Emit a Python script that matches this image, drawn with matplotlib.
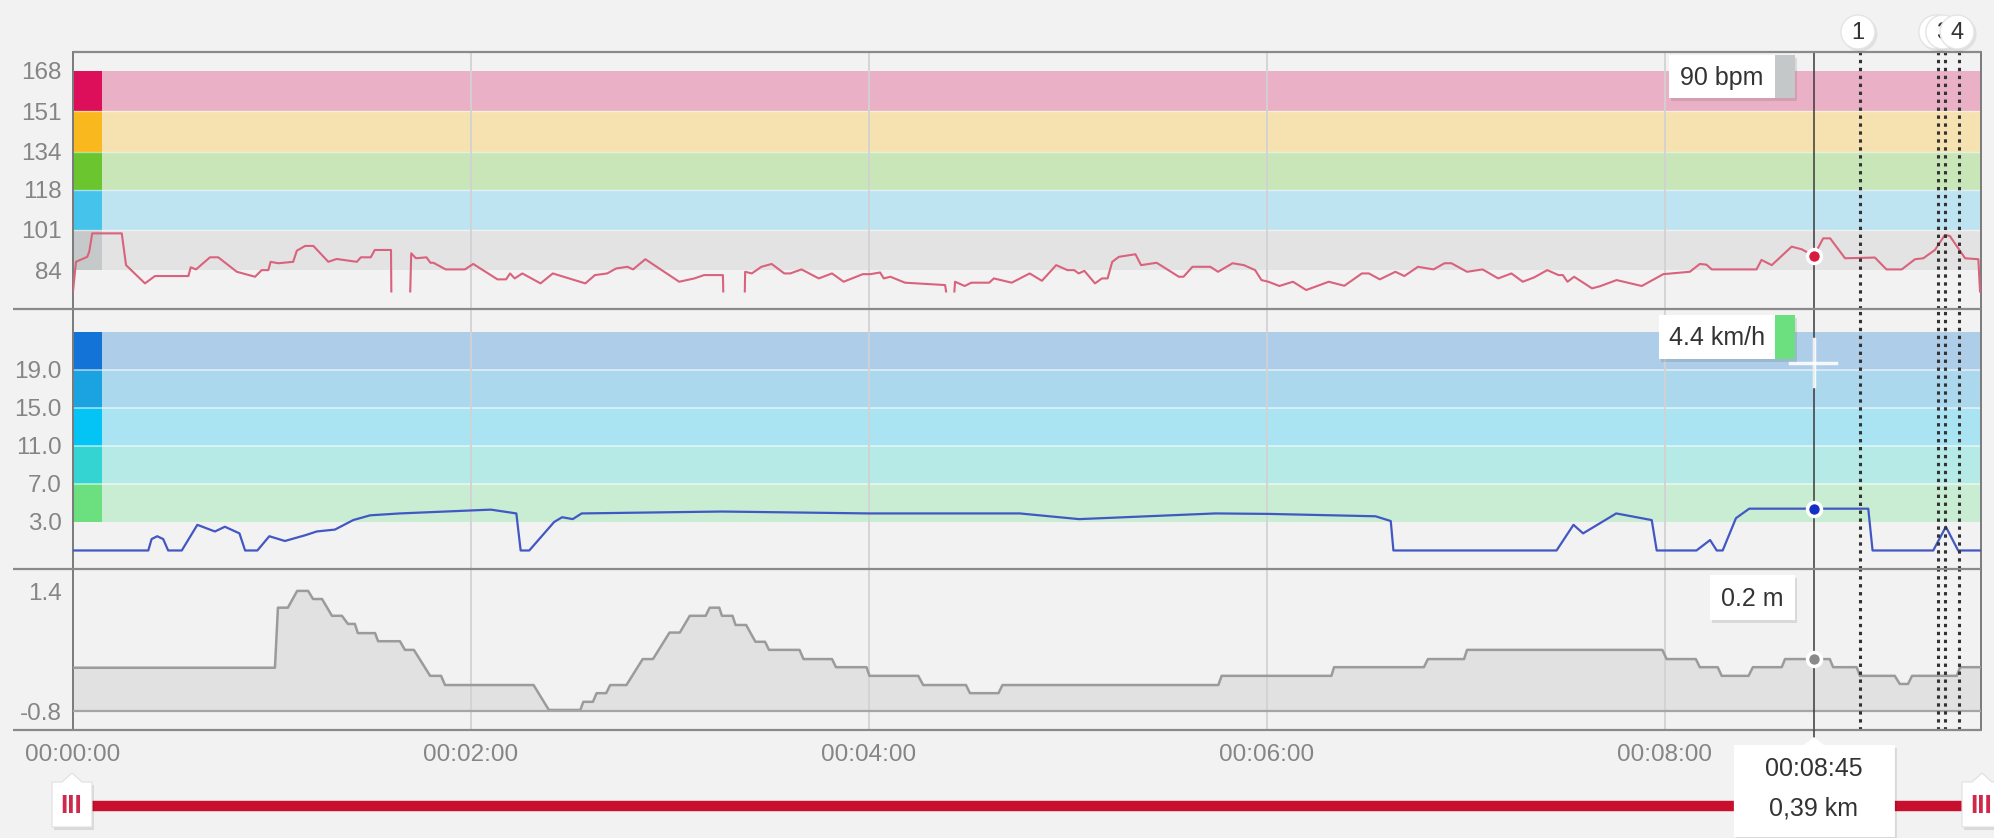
import numpy as np
import matplotlib.pyplot as plt
from matplotlib.patches import Rectangle, Polygon, Circle

plt.rcParams['font.family'] = ['Liberation Sans', 'DejaVu Sans']

W, H = 1994, 838
BG = '#f2f2f2'

# ---- data -------------------------------------------------------------
nan = np.nan
hr_t = [0, 0.9, 4.3, 4.9, 5.8, 14.7, 16.0, 21.7, 24.7, 34.8, 35.5, 37.1, 41.3, 43.8,
        49.4, 54.9, 56.9, 58.9, 59.6, 61.9, 66.4, 67.5, 70.0, 72.5, 77.0, 79.5, 85.6,
        86.8, 89.8, 91.0, 95.9, 96.0, 99.0,
        101.7, 102.0, 103.4, 106.6, 107.8, 108.7, 112.4, 118.2, 120.7, 128.0, 130.6,
        131.8, 133.2, 135.5, 141.0, 144.7, 154.5, 157.4, 161.1, 163.8, 167.2, 168.9,
        172.6, 182.8, 187.4, 190.3, 196.0, 196.1, 199.0,
        202.6, 202.7, 204.7, 207.6, 210.7, 214.5, 216.3, 219.7, 224.9, 228.9, 232.4,
        238.2, 240.5, 243.4, 244.5, 246.5, 250.9, 263.0, 263.3, 264.5,
        265.8, 266.0, 268.9, 270.9, 276.3, 277.7, 283.1, 288.5, 292.2, 296.5, 299.9,
        301.9, 303.3, 305.0, 308.2, 310.3, 312.0, 313.4, 315.4, 320.4, 322.1, 326.8,
        333.5, 334.9, 337.6, 343.0, 345.3, 349.7, 353.1, 356.5, 358.4, 360.5, 363.8,
        367.9, 371.9, 378.7, 383.4, 388.7, 390.8, 394.1, 398.8, 401.5, 405.6, 410.3,
        413.6, 415.7, 420.4, 425.1, 429.8, 433.8, 437.2, 440.6, 444.6, 448.0, 449.3,
        450.7, 452.7, 458.1, 460.5, 465.5, 473.1, 479.6, 487.6, 490.6, 492.6, 494.2,
        507.7, 509.2, 512.3, 518.3, 521.3, 525.0, 527.8, 529.9, 534.4, 543.4, 546.9,
        551.5, 555.5, 558.0, 561.5, 564.5, 566.0, 570.6, 574.6, 575.1]
hr_v = [75, 87.5, 89.6, 91.8, 99.5, 99.5, 86.1, 78.4, 81.5, 81.5, 85.2, 84.3, 89.4, 89.4,
        83.3, 81.2, 84.0, 84.0, 87.5, 86.9, 87.5, 92.2, 94.2, 94.2, 87.5, 88.7, 87.5,
        89.4, 89.4, 92.5, 92.5, 75, nan,
        75, 91.1, 89.0, 89.4, 87.1, 87.1, 84.3, 84.3, 86.6, 80.1, 80.1,
        82.6, 80.5, 82.6, 78.4, 82.6, 78.4, 81.9, 82.6, 84.7, 85.4, 84.3,
        88.6, 79.1, 80.5, 81.9, 81.9, 75, nan,
        75, 83.3, 82.6, 85.4, 86.6, 82.6, 82.6, 84.3, 80.5, 82.6, 79.1,
        82.3, 82.3, 83.0, 80.5, 81.2, 78.7, 77.7, 75, nan,
        75, 79.1, 77.3, 78.7, 78.7, 80.5, 78.7, 82.6, 79.5, 86.1, 84.0,
        84.0, 82.6, 83.7, 78.4, 80.5, 80.5, 87.5, 89.6, 90.7, 86.1, 87.1,
        81.2, 81.2, 85.4, 85.4, 83.3, 86.9, 86.1, 84.0, 79.8, 79.1, 77.3,
        79.1, 75.6, 79.1, 77.4, 82.6, 82.6, 80.1, 83.3, 81.5, 85.4, 84.3,
        86.9, 86.9, 83.3, 84.3, 80.5, 82.6, 79.1, 80.9, 84.0, 81.9, 81.9,
        79.1, 81.2, 76.3, 77.2, 79.8, 77.3, 82.3, 83.3, 86.6, 86.3, 84.3,
        84.3, 88.3, 86.1, 93.9, 92.8, 90.0, 97.4, 97.4, 89.0, 89.3, 84.3,
        84.3, 88.6, 89.0, 92.5, 98.8, 98.4, 89.0, 88.6, 75]

sp_t = [0, 22.7, 23.7, 25.4, 27.2, 28.7, 32.8, 37.5, 42.8, 45.8, 50.2, 51.9, 55.6, 59.2,
        63.9, 70.0, 73.5, 79.0, 84.5, 89.6, 98.6, 126.0, 133.7, 135.0, 137.6, 145.1,
        147.5, 150.7, 153.4, 195.7, 239.9, 285.5, 303.4, 344.5, 360.6, 392.8, 397.4,
        398.2, 447.4, 452.5, 455.4, 465.4, 476.1, 477.6, 489.6, 493.7, 495.7, 497.5,
        501.5, 505.5, 541.4, 542.7, 561.0, 564.8, 568.5, 575.4]
sp_v = [0, 0, 1.2, 1.5, 1.2, 0, 0, 2.7, 2.0, 2.5, 1.8, 0, 0, 1.5,
        1.0, 1.6, 2.0, 2.2, 3.2, 3.7, 3.9, 4.3, 3.9, 0, 0, 3.0,
        3.5, 3.3, 3.9, 4.1, 3.9, 3.9, 3.3, 3.9, 3.85, 3.6, 3.1,
        0, 0, 2.7, 1.8, 3.9, 3.2, 0, 0, 1.1, 0, 0,
        3.4, 4.4, 4.4, 0, 0, 2.5, 0, 0]

el_t = [0, 60.9, 61.8, 64.8, 67.6, 70.9, 72.4, 75.1, 78.1, 81.1, 82.9, 85.0, 85.9, 91.1,
        92.0, 98.6, 100.1, 102.8, 107.7, 111.0, 112.2, 138.9, 143.5, 153.0, 153.9, 156.8,
        157.9, 160.8, 162.0, 166.9, 171.8, 174.9, 179.9, 183.0, 186.0, 190.8, 192.0,
        194.9, 195.7, 198.9, 199.8, 203.0, 205.8, 208.7, 209.9, 219.1, 220.3, 228.9,
        230.1, 239.3, 240.2, 254.9, 256.4, 269.3, 270.5, 279.1, 280.3, 345.4, 346.4,
        379.5, 380.3, 407.4, 408.6, 419.5, 420.4, 479.3, 480.6, 489.4, 490.6, 496.0,
        497.2, 505.3, 506.6, 515.3, 516.3, 529.8, 530.8, 537.9, 538.9, 549.4, 550.9,
        553.4, 554.6, 568.1, 569.1, 575.4]
el_v = [0.0, 0.0, 1.11, 1.11, 1.42, 1.42, 1.27, 1.27, 0.96, 0.96, 0.81, 0.81, 0.64, 0.64,
        0.49, 0.49, 0.33, 0.33, -0.15, -0.15, -0.32, -0.32, -0.78, -0.78, -0.63, -0.63,
        -0.47, -0.47, -0.32, -0.32, 0.16, 0.16, 0.65, 0.65, 0.96, 0.96, 1.11,
        1.11, 0.96, 0.96, 0.79, 0.79, 0.48, 0.48, 0.33, 0.33, 0.16, 0.16,
        0.01, 0.01, -0.15, -0.15, -0.32, -0.32, -0.47, -0.47, -0.32, -0.32, -0.15,
        -0.15, 0.01, 0.01, 0.16, 0.16, 0.33, 0.33, 0.16, 0.16, 0.01, 0.01,
        -0.15, -0.15, 0.01, 0.01, 0.16, 0.16, 0.01, 0.01, -0.15, -0.15, -0.30,
        -0.30, -0.15, -0.15, 0.01, 0.01]

hr_zones = [84, 101, 118, 134, 151, 168]
hr_band_colors = ['#e3e3e3', '#bee3f1', '#c9e6b9', '#f6e1b0', '#eab0c5']
hr_box_colors = ['#c6c9ca', '#45c3ea', '#6ac52e', '#f9b81d', '#de0f5a']
sp_zones = [3, 7, 11, 15, 19, 23]
sp_labels = ['3.0', '7.0', '11.0', '15.0', '19.0']
sp_band_colors = ['#c9edd2', '#b5eae6', '#aae4f3', '#abd8ec', '#aecde8']
sp_box_colors = ['#6ce07f', '#33d4d2', '#04c4f6', '#1ba2e1', '#1473d6']
el_ticks = [1.4, -0.8]
el_labels = ['1.4', '-0.8']

grid_t = [0, 120, 240, 360, 480]
lap_t = [538.9, 562.4, 564.5, 568.8]
lap_names = ['1', '2', '3', '4']
t_end = 575.4

cursor_t = 525
cursor_hr = 90
cursor_sp = 4.4
cursor_el = 0.16
cursor_km = '0,39 km'

# ---- layout -----------------------------------------------------------
fig = plt.figure(figsize=(W / 100, H / 100), dpi=100, facecolor=BG)
L, R = 73, 1981


def frame(top, bottom):
    return [L / W, 1 - bottom / H, (R - L) / W, (bottom - top) / H]


ax_hr = fig.add_axes(frame(52, 309))
ax_sp = fig.add_axes(frame(309, 569))
ax_el = fig.add_axes(frame(569, 730))
axes = [ax_hr, ax_sp, ax_el]

ax_hr.set_ylim(67.6, 176.0)
ax_sp.set_ylim(-1.95, 25.42)
ax_el.set_ylim(-1.151, 1.825)

box_w = 29 / (R - L)
for ax in axes:
    ax.set_facecolor(BG)
    ax.set_xlim(0, t_end)
    for s in ['top', 'bottom']:
        ax.spines[s].set_visible(False)
    for s in ['left', 'right']:
        ax.spines[s].set_color('#7a7a7a')
        ax.spines[s].set_linewidth(1.4)
    ax.tick_params(length=0, labelsize=17.5, labelcolor='#858585', pad=8)
    ax.set_xticks([])
    for g in grid_t[1:]:
        ax.axvline(g, color='#d2d2d2', lw=1.3, zorder=1.5)

# heart-rate zones
for i in range(len(hr_band_colors)):
    lo, hi = hr_zones[i], hr_zones[i + 1]
    ax_hr.axhspan(lo, hi, color=hr_band_colors[i], lw=0, zorder=1)
    ax_hr.axhspan(lo, hi, xmin=0, xmax=box_w, color=hr_box_colors[i], lw=0, zorder=1.2)
for b in hr_zones[1:-1]:
    ax_hr.axhline(b, color='white', lw=1, alpha=0.5, zorder=1.3)
ax_hr.set_yticks(hr_zones)
ax_hr.set_yticklabels([str(z) for z in hr_zones])
ax_hr.plot(hr_t, hr_v, color='#d9627c', lw=1.5, zorder=3)

# speed zones
for i in range(len(sp_band_colors)):
    lo, hi = sp_zones[i], sp_zones[i + 1]
    ax_sp.axhspan(lo, hi, color=sp_band_colors[i], lw=0, zorder=1)
    ax_sp.axhspan(lo, hi, xmin=0, xmax=box_w, color=sp_box_colors[i], lw=0, zorder=1.2)
for b in sp_zones[1:-1]:
    ax_sp.axhline(b, color='white', lw=1.2, alpha=0.6, zorder=1.3)
ax_sp.set_yticks(sp_zones[:-1])
ax_sp.set_yticklabels(sp_labels)
ax_sp.plot(sp_t, sp_v, color='#4257c4', lw=1.6, zorder=3)

# elevation
ax_el.fill_between(el_t, el_v, -0.8, color='#e1e1e1', lw=0, zorder=1)
ax_el.plot(el_t, el_v, color='#9b9b9b', lw=1.8, zorder=3)
ax_el.axhline(-0.8, color='#a5a5a5', lw=1.6, zorder=3)
ax_el.set_yticks(el_ticks)
ax_el.set_yticklabels(el_labels)
ax_el.set_xticks(grid_t)
ax_el.set_xticklabels(['%02d:%02d:%02d' % (g // 3600, g % 3600 // 60, g % 60) for g in grid_t])
ax_el.tick_params(axis='x', labelsize=17.5, pad=10)

# lap markers + cursor
for ax in axes:
    for lt in lap_t:
        ax.axvline(lt, color='#333333', lw=2.2, dashes=(1.1, 1.5), zorder=4)
    ax.axvline(cursor_t, color='#3a3a3a', lw=1.1, zorder=4)
ax_hr.plot(cursor_t, cursor_hr, 'o', ms=10, mfc='#d71a3e', mec='white', mew=2.5, zorder=6)
ax_sp.plot(cursor_t, cursor_sp, 'o', ms=10, mfc='#1530c4', mec='white', mew=2.5, zorder=6)
ax_el.plot(cursor_t, cursor_el, 'o', ms=10, mfc='#8a8a8a', mec='white', mew=2.5, zorder=6)

# ---- overlay (pixel coordinates) --------------------------------------
ov = fig.add_axes([0, 0, 1, 1], zorder=10)
ov.set_xlim(0, W)
ov.set_ylim(H, 0)
ov.axis('off')
ov.patch.set_alpha(0)


def tx(t):
    return ax_hr.transData.transform((t, 100))[0]


for y in [309, 569, 730]:
    ov.plot([13, R], [y, y], color='#8a8a8a', lw=1.6, solid_capstyle='butt', zorder=1)
ov.plot([L, R], [52, 52], color='#8a8a8a', lw=1.6, solid_capstyle='butt', zorder=1)

cx = tx(cursor_t)
ov.plot([cx, cx], [730, 740], color='#3a3a3a', lw=1.1, zorder=1)

# lap bubbles, later ones drawn on top of earlier ones
for i, (lt, name) in enumerate(zip(lap_t, lap_names)):
    x = tx(lt) - 2
    z = 5 + 2 * i
    ov.add_patch(Circle((x + 2, 34), 17.5, color='black', alpha=0.07, lw=0, zorder=z))
    ov.add_patch(Circle((x, 32), 17, facecolor='white', edgecolor='#e4e4e4', lw=1, zorder=z))
    ov.text(x, 33, name, ha='center', va='center', fontsize=17, color='#333333', zorder=z + 1)


def tooltip(right, top, bottom, width, text, strip=None):
    left = right - width
    ov.add_patch(Rectangle((left + 2, top + 3), width, bottom - top, color='black',
                           alpha=0.1, lw=0, zorder=5))
    ov.add_patch(Rectangle((left, top), width, bottom - top, color='white', lw=0, zorder=5))
    tr = right
    if strip:
        ov.add_patch(Rectangle((right - 20, top), 20, bottom - top, color=strip, lw=0, zorder=5))
        tr = right - 20
    ov.text((left + tr) / 2, (top + bottom) / 2 + 1, text, ha='center', va='center',
            fontsize=18, color='#333333', zorder=6)


tooltip(cx - 19, 55, 98, 126, '%d bpm' % cursor_hr, '#c4c8c9')
tooltip(cx - 19, 315, 359, 136, '%.1f km/h' % cursor_sp, '#6ce07f')
tooltip(cx - 19, 575, 620, 85, '%.1f m' % cursor_el)

# crosshair
ov.plot([cx - 24, cx + 22], [363, 363], color='white', lw=2.5, alpha=0.9, zorder=4)
ov.plot([cx, cx], [339, 386], color='white', lw=2.5, alpha=0.9, zorder=4)

# range slider
ov.plot([92, 1962], [806, 806], color='#c8102e', lw=7.5, solid_capstyle='butt', zorder=1)


def handle(x):
    pts = [(x - 20, 782), (x - 10, 782), (x, 773), (x + 10, 782), (x + 20, 782),
           (x + 20, 827), (x - 20, 827)]
    ov.add_patch(Polygon([(a + 2, b + 3) for a, b in pts], color='black', alpha=0.1,
                         lw=0, zorder=5))
    ov.add_patch(Polygon(pts, facecolor='white', edgecolor='#e0e0e0', lw=0.8, zorder=5))
    ov.text(x - 1, 806, 'III', ha='center', va='center', fontsize=19,
            color='#d0284a', fontweight='bold', zorder=6)


handle(72)
handle(1982)

# time / distance tooltip
tip = [(cx - 80, 745), (cx - 10, 745), (cx, 737), (cx + 10, 745), (cx + 81, 745),
       (cx + 81, 837), (cx - 80, 837)]
ov.add_patch(Polygon([(a + 2, b + 3) for a, b in tip], color='black', alpha=0.1, lw=0, zorder=5))
ov.add_patch(Polygon(tip, color='white', lw=0, zorder=5))
ov.text(cx, 769, '%02d:%02d:%02d' % (cursor_t // 3600, cursor_t % 3600 // 60, cursor_t % 60),
        ha='center', va='center', fontsize=18, color='#333333', zorder=6)
ov.text(cx, 808, cursor_km, ha='center', va='center', fontsize=18, color='#333333', zorder=6)

fig.savefig('out.png', dpi=100, facecolor=BG)
